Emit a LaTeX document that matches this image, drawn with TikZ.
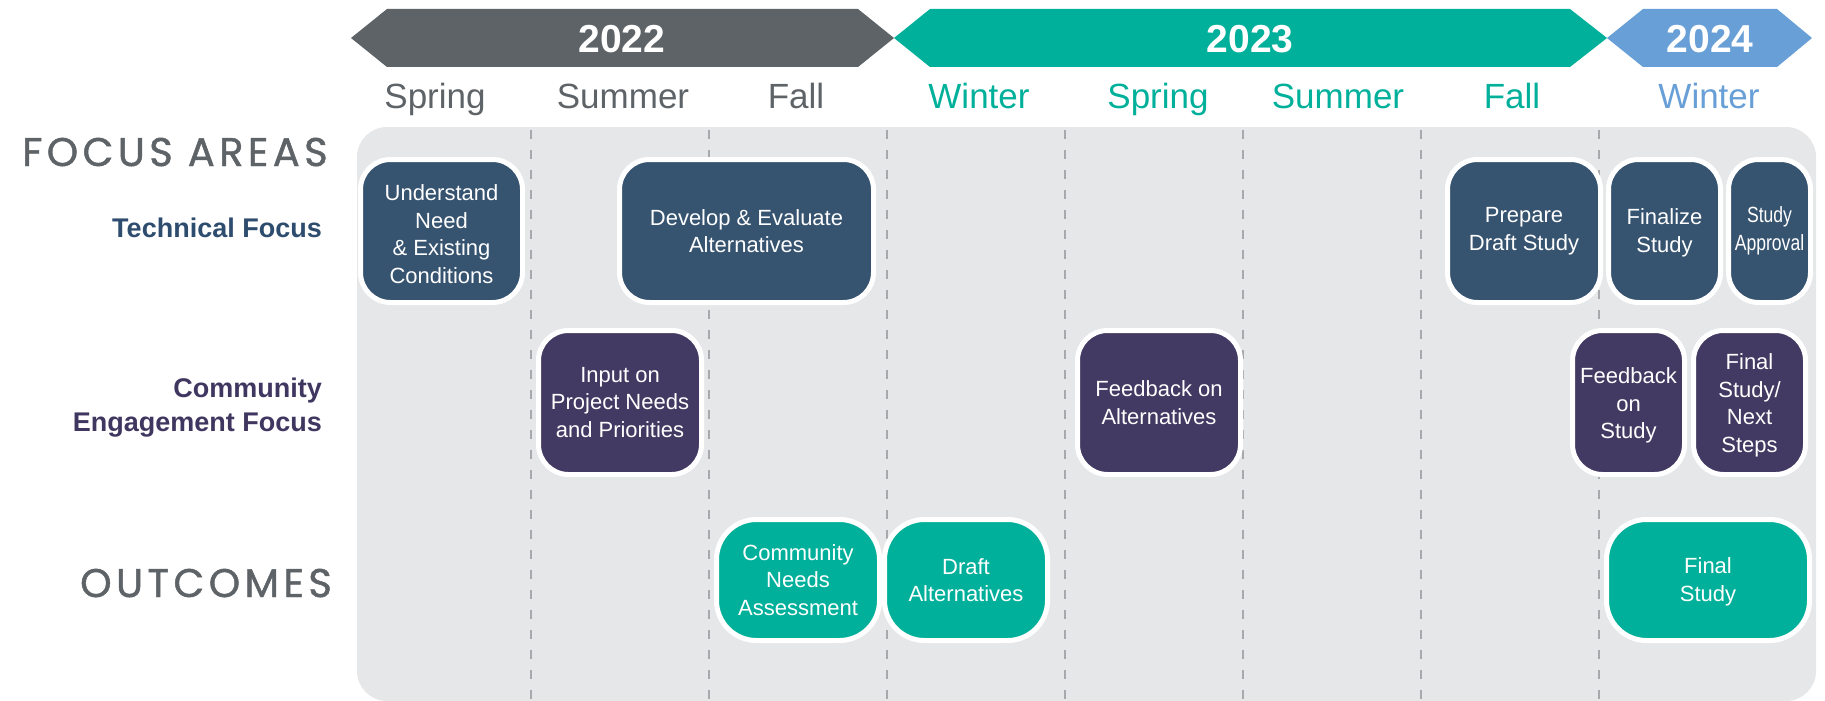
\documentclass[tikz,border=0pt]{standalone}
\usepackage{fontspec}
\usepackage{graphicx}
\setmainfont{Liberation Sans}
\newfontfamily\labelfont[LetterSpace=11,FakeBold=1.2]{Poppins}
\definecolor{grayc}{RGB}{94,99,104}
\definecolor{tealc}{RGB}{0,176,154}
\definecolor{bluec}{RGB}{103,159,214}
\definecolor{techc}{RGB}{54,83,112}
\definecolor{comc}{RGB}{66,58,98}
\definecolor{techtext}{RGB}{46,76,110}
\definecolor{comtext}{RGB}{64,55,96}
\definecolor{panelc}{RGB}{230,231,232}
\definecolor{dashc}{RGB}{167,169,172}
\newcommand{\dnrule}[1]{\rule{0pt}{#1}}
\tikzset{
  box/.style={rectangle, rounded corners=30pt, draw=white, line width=5pt, text=white,
    align=center, inner sep=0pt, font=\fontsize{22}{27.5}\selectfont},
  techbox/.style={box, fill=techc, minimum height=143pt},
  combox/.style={box, fill=comc, minimum height=144pt},
  outbox/.style={box, fill=tealc, minimum height=121pt, rounded corners=40pt},
  season/.style={anchor=base, inner sep=0pt, font=\fontsize{35}{40}\selectfont},
  year/.style={text=white, inner sep=0pt, font=\bfseries\fontsize{39}{44}\selectfont},
  dashline/.style={draw=dashc, line width=2.7pt, dash pattern=on 9pt off 11pt},
  rowlabel/.style={anchor=base east, inner sep=0pt, font=\bfseries\fontsize{27}{34}\selectfont},
  biglabel/.style={anchor=base west, inner sep=0pt, text=grayc, font=\labelfont\fontsize{40}{44}\selectfont},
}
\begin{document}
\begin{tikzpicture}[x=1pt,y=-1pt]
\useasboundingbox (0,0) rectangle (1825,701);
% year banners
\fill[grayc] (351,38) -- (387,9) -- (858,9) -- (894,38) -- (858,67) -- (387,67) -- cycle;
\fill[tealc] (894,38) -- (930,9) -- (1570,9) -- (1607,38) -- (1570,67) -- (930,67) -- cycle;
\fill[bluec] (1607,38) -- (1643,9) -- (1777,9) -- (1812,38) -- (1777,67) -- (1643,67) -- cycle;
\node[year] (y22) at (622,39) {2022};
\node[year] (y23) at (1250,39) {2023};
\node[year] (y24) at (1710,39) {2024};
% seasons
\node[season, text=grayc] (s1) at (435,108) {Spring};
\node[season, text=grayc] (s2) at (623,108) {Summer};
\node[season, text=grayc] (s3) at (796,108) {Fall};
\node[season, text=tealc] (s4) at (979,108) {Winter};
\node[season, text=tealc] (s5) at (1158,108) {Spring};
\node[season, text=tealc] (s6) at (1338,108) {Summer};
\node[season, text=tealc] (s7) at (1512,108) {Fall};
\node[season, text=bluec] (s8) at (1709,108) {Winter};
% left labels
\node[biglabel] (fa) at (22,166) {FOCUS AREAS};
\node[rowlabel, text=techtext] (tf) at (322,237) {Technical Focus};
\node[rowlabel, text=comtext] (ce1) at (322,397) {Community};
\node[rowlabel, text=comtext] (ce2) at (322,431) {Engagement Focus};
\node[biglabel] (oc) at (80,597) {OUTCOMES};
% panel
\fill[panelc, rounded corners=30pt] (357,127) rectangle (1816,701);
\foreach \x in {531,709,887,1065,1243,1421,1599}
  \draw[dashline] (\x,130) -- (\x,701);
% technical focus boxes
\node[techbox, minimum width=162pt] (t1) at (441.5,231) {\dnrule{22pt}Understand\\Need\\\& Existing\\Conditions};
\node[techbox, minimum width=254pt] (t2) at (746.5,231) {Develop \& Evaluate\\Alternatives};
\node[techbox, minimum width=153pt] (t3) at (1524,231) {Prepare\\Draft Study};
\node[techbox, minimum width=112pt] (t4) at (1664.5,231) {\dnrule{20pt}Finalize\\Study};
\node[techbox, minimum width=82pt] (t5) at (1769.5,231) {\scalebox{0.8}[1]{Study}\\\scalebox{0.8}[1]{Approval}};
% community engagement boxes
\node[combox, minimum width=163pt] (c1) at (620,402.5) {Input on\\Project Needs\\and Priorities};
\node[combox, minimum width=163pt] (c2) at (1159,402.5) {Feedback on\\Alternatives};
\node[combox, minimum width=112pt] (c3) at (1628.5,402.5) {\dnrule{22pt}Feedback\\on\\Study};
\node[combox, minimum width=112pt] (c4) at (1749.5,402.5) {\dnrule{22pt}Final\\Study/\\Next\\Steps};
% outcomes
\node[outbox, minimum width=163pt] (o1) at (798,580) {Community\\Needs\\Assessment};
\node[outbox, minimum width=163pt] (o2) at (966,580) {Draft\\Alternatives};
\node[outbox, minimum width=203pt] (o3) at (1708,580) {\dnrule{20pt}Final\\Study};
\end{tikzpicture}
\end{document}
